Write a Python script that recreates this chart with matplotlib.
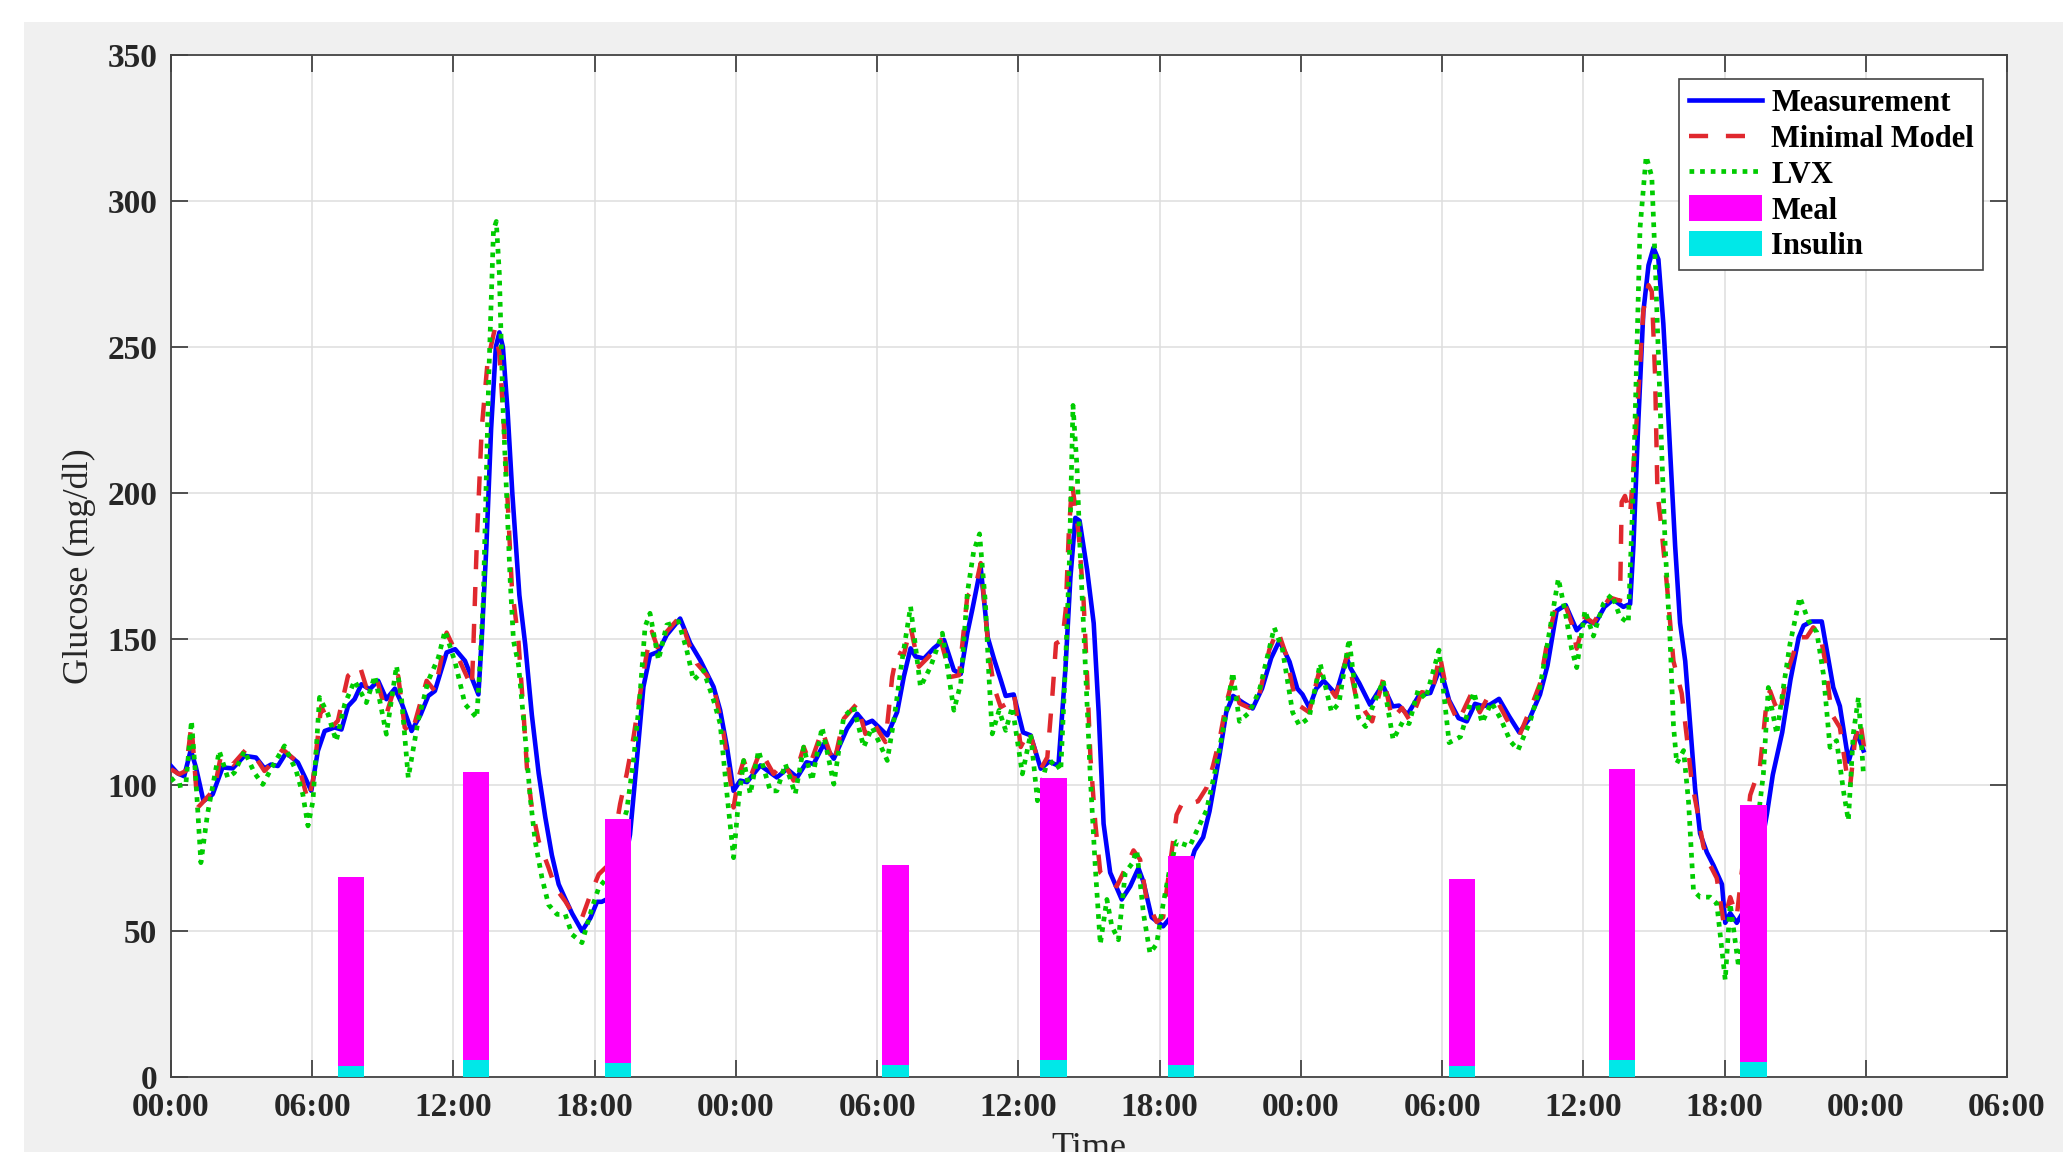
import matplotlib
matplotlib.use("Agg")
import matplotlib.pyplot as plt
from matplotlib.patches import Rectangle

# ---------------- data (hours from start, mg/dl) ----------------
meas_t = [0.0, 0.28, 0.56, 0.84, 1.06, 1.38, 1.77, 2.19, 2.62, 3.12, 3.61, 3.97, 4.25, 4.54, 4.89,
          5.39, 5.67, 5.96, 6.24, 6.53, 6.95, 7.24, 7.52, 7.8, 8.09, 8.44, 8.8, 9.15, 9.51, 9.8,
          10.22, 10.6, 10.93, 11.21, 11.71, 12.07, 12.49, 13.06, 13.2, 13.4, 13.6, 13.8, 13.95,
          14.1, 14.3, 14.5, 14.8, 15.05, 15.33, 15.62, 15.9, 16.18, 16.47, 16.75, 17.04, 17.46,
          17.82, 18.1, 18.3, 18.8, 19.2, 19.5, 19.79, 20.07, 20.35, 20.7, 21.06, 21.63, 22.06,
          22.48, 23.05, 23.33, 23.62, 23.9, 24.18, 24.47, 25.04, 25.74, 26.17, 26.6, 27.0, 27.3,
          27.73, 28.16, 28.72, 29.15, 29.5, 29.79, 30.43, 30.85, 31.13, 31.42, 31.63, 31.99,
          32.4, 32.84, 33.26, 33.55, 33.83, 34.04, 34.4, 34.7, 34.97, 35.25, 35.46, 35.8, 36.2,
          36.52, 36.95, 37.3, 37.7, 38.0, 38.21, 38.42, 38.6, 38.92, 39.2, 39.41, 39.62, 39.9,
          40.39, 40.75, 41.1, 41.31, 41.66, 42.15, 42.5, 43.0, 43.49, 43.85, 44.12, 44.55, 44.83,
          45.12, 45.54, 45.95, 46.35, 46.74, 47.09, 47.52, 47.85, 48.07, 48.36, 48.65, 48.97,
          49.49, 49.95, 50.11, 50.48, 50.94, 51.47, 51.9, 52.17, 52.53, 53.03, 53.5, 53.92, 54.3,
          54.7, 55.05, 55.4, 55.74, 56.03, 56.42, 56.85, 57.28, 57.73, 58.16, 58.48, 58.87, 59.25,
          59.72, 60.14, 60.5, 60.9, 61.27, 61.7, 61.99, 62.13, 62.34, 62.55, 62.77, 62.98, 63.19,
          63.4, 63.55, 63.69, 63.9, 64.11, 64.33, 64.54, 64.75, 64.96, 65.25, 65.53, 65.89, 66.03,
          66.24, 66.52, 66.9, 67.3, 67.8, 68.05, 68.45, 68.8, 69.15, 69.36, 69.7, 70.13, 70.42,
          70.62, 70.9, 71.27, 71.62, 71.9]
meas_v = [106.5, 104, 103, 112, 106, 94.5, 96.8, 106, 105.7, 110, 109.4, 105.7, 107, 106.5, 111,
          107.7, 103, 98, 111.7, 118.5, 119.7, 119, 127, 129.4, 134.5, 132.8, 135.7, 129.4, 133, 128,
          118.5, 124, 130.5, 132.2, 145.4, 146.5, 142.5, 131, 150, 182, 222, 250, 255,
          250, 228, 200, 165, 148, 124, 104, 89, 76, 66, 61, 56, 50,
          54.5, 60, 60, 62, 70, 83, 108.4, 133.6, 144.5, 145.6, 151.4, 157, 148.5,
          142.8, 133.6, 125.6, 113, 98, 101.5, 101, 106.7, 102.6, 105.5, 102.6, 107.8, 107.2,
          114, 109, 119.3, 124.4, 121, 122, 117, 125, 137, 146.8, 144, 143.3,
          146.8, 149.7, 139.3, 138, 152, 160, 174.5, 150.5, 143, 136, 130.5, 131, 118,
          117, 105.6, 108, 106.6, 140, 171, 191.5, 190.5, 173.7, 155.4, 125, 86.7, 70,
          60.8, 65.3, 71.5, 66.9, 54.7, 51.6, 55, 65, 77.6, 82.1, 91, 110.5, 124.9,
          130.5, 128.2, 126.2, 133, 143.5, 149.4, 142.2, 133, 131, 126.5, 133, 135.7,
          131.1, 143.5, 140, 134.9, 127.5, 134.3, 126.9, 127.2, 124.1, 130.8, 131.5, 140.2, 129,
          122.9, 121.8, 127.8, 127, 127.5, 129.5, 123.5, 118, 123, 131, 141, 159.7, 161.6,
          153, 156.4, 155.2, 161, 163.5, 161, 162, 182, 225, 262, 278, 284, 280,
          258, 236, 214, 182, 155.5, 142.4, 120.5, 98.7, 83.4, 76.9, 72.5, 66, 52.8,
          56.1, 52.8, 58, 68, 90, 103.5, 118, 136, 150.5, 154.6, 156, 156, 142.5,
          133.4, 127, 108, 117.8, 111.8]

mm_t = [0.0, 0.35, 0.63, 0.87, 1.13, 1.34, 1.84, 2.12, 2.62, 3.19, 3.6, 3.97, 4.32, 4.75, 5.39,
        5.82, 6.03, 6.38, 6.81, 7.09, 7.52, 8.02, 8.3, 8.73, 9.15, 9.65, 9.93, 10.22, 10.86,
        11.21, 11.71, 12.07, 12.78, 12.84, 13.0, 13.2, 13.45, 13.75, 13.95, 14.15, 14.48, 14.76,
        14.98, 15.12, 15.33, 15.62, 16.04, 16.33, 16.75, 17.18, 17.46, 17.82, 18.17, 18.5, 18.8,
        19.08, 19.36, 19.65, 19.93, 20.21, 20.43, 20.71, 21.06, 21.63, 21.99, 22.34, 22.77,
        23.12, 23.48, 23.76, 23.9, 24.11, 24.33, 24.61, 25.04, 25.6, 26.03, 26.45, 26.88, 27.16,
        27.66, 28.16, 28.58, 29.15, 29.5, 29.79, 30.35, 30.64, 30.85, 31.13, 31.42, 31.77, 32.2,
        32.7, 33.12, 33.48, 33.83, 34.18, 34.4, 34.75, 34.96, 35.25, 35.53, 35.82, 36.1, 36.45,
        36.95, 37.23, 37.45, 37.6, 37.87, 38.01, 38.14, 38.28, 38.56, 38.77, 38.92, 39.06, 39.27,
        39.48, 39.9, 40.18, 40.46, 40.89, 41.17, 41.45, 41.87, 42.15, 42.4, 42.72, 43.0, 43.28,
        43.63, 43.99, 44.27, 44.55, 44.83, 45.11, 45.39, 45.82, 46.24, 46.66, 47.01, 47.37,
        47.79, 48.35, 48.77, 49.48, 49.97, 50.32, 50.75, 51.03, 51.52, 51.87, 52.3, 52.65, 53.14,
        53.56, 53.9, 54.27, 54.68, 55.25, 55.6, 55.96, 56.38, 56.88, 57.3, 57.8, 58.16, 58.51,
        58.87, 59.22, 59.5, 59.72, 60.07, 60.43, 60.85, 61.13, 61.56, 61.63, 61.77, 61.99, 62.27,
        62.55, 62.77, 62.91, 63.05, 63.15, 63.26, 63.55, 63.83, 64.18, 64.4, 64.61, 64.82, 65.1,
        65.39, 65.67, 65.96, 66.24, 66.52, 66.8, 67.09, 67.5, 67.65, 67.79, 67.93, 68.14, 68.36,
        68.64, 68.92, 69.14, 69.49, 69.77, 70.06, 70.27, 70.55, 70.9, 71.19, 71.33, 71.54, 71.76,
        71.97]
mm_v = [105.4, 103.7, 104.8, 120.8, 92.2, 94, 98.5, 110, 107, 112.2, 109.4, 104.8, 107.7, 112.2, 107.7,
        94.5, 101.4, 127, 119.7, 122, 137.4, 140.8, 133.4, 136.8, 124.2, 137.4, 119.7, 117.4, 135.7,
        132.2, 152.2, 146, 133.4, 146, 185, 222, 245, 256, 248, 222, 168, 149.4,
        124.2, 106, 92.2, 80.8, 71.7, 64.8, 60.2, 54.5, 54.5, 62.5, 69.4, 72, 80,
        93.5, 103.8, 116.4, 131.3, 145, 152.5, 146.2, 152.5, 157.7, 148.5, 141.6, 137.6,
        131.3, 117.5, 101.5, 92.3, 102.6, 108.4, 102.6, 111.8, 103.8, 107.8, 101.5, 113, 107.2,
        118.7, 107.2, 122.7, 127.9, 117.5, 122, 114.7, 137, 145.6, 144.5, 154.2, 140.5, 144,
        149.7, 137, 137.6, 164.6, 168, 176, 145, 133.6, 126.7, 127.9, 131.3, 113, 118.7,
        105.5, 109.5, 131.3, 148.5, 149.7, 160, 186, 203.5, 186, 163, 137, 109.6, 86.7,
        70, 66.9, 65.3, 70, 77.6, 74.5, 60.8, 53.1, 54.7, 70, 89.8, 94.4, 93.6,
        94.4, 99, 106.6, 115.7, 128, 136.3, 128, 126.4, 131, 146.3, 153.1, 144.7,
        128, 124.9, 138.6, 130.2, 144.7, 131, 124.9, 121.8, 137, 122.6, 126.4, 121.8, 131.8,
        131, 144.6, 129, 121.6, 131.4, 124.9, 130.3, 128.2, 120.5, 117.2, 127.1, 134.7, 151,
        162, 162, 155.5, 146.7, 157.6, 155.5, 160.9, 164.2, 163.1, 196.9, 199, 192.6, 225.3,
        262.4, 271.2, 269, 240, 200, 192.6, 168.6, 142.4, 131.4, 116.2, 100.9, 92.1, 79,
        72.5, 68.1, 52.8, 61.6, 55, 75, 96.5, 106, 117.5, 128.9, 132.3, 127.7, 124.3,
        138, 144.9, 150.6, 150.6, 154, 151.7, 142.6, 124.3, 119.7, 103.8, 99.2, 115.2, 122,
        110.6]

lvx_t = [0.0, 0.28, 0.63, 0.87, 1.06, 1.27, 1.55, 2.05, 2.41, 2.69, 3.12, 3.54, 3.9, 4.32, 4.82,
         5.32, 5.6, 5.82, 6.03, 6.31, 6.67, 7.02, 7.38, 7.8, 8.3, 8.66, 9.15, 9.58, 9.79, 10.08,
         10.5, 10.93, 11.36, 11.64, 12.07, 12.49, 12.99, 13.13, 13.27, 13.5, 13.7, 13.82, 13.95,
         14.1, 14.41, 14.55, 14.76, 15.05, 15.26, 15.47, 15.76, 16.04, 16.4, 16.75, 17.04, 17.46,
         17.89, 18.17, 18.5, 18.9, 19.36, 19.65, 19.93, 20.14, 20.35, 20.71, 21.06, 21.56, 21.91,
         22.2, 22.62, 23.05, 23.33, 23.62, 23.9, 24.11, 24.33, 24.61, 24.96, 25.46, 25.74, 26.1,
         26.52, 26.88, 27.23, 27.66, 28.16, 28.58, 29.0, 29.43, 29.79, 30.43, 30.71, 31.06, 31.42,
         31.84, 32.27, 32.77, 33.26, 33.55, 33.83, 34.1, 34.35, 34.6, 34.75, 34.89, 35.18, 35.46,
         35.74, 36.17, 36.52, 36.81, 37.16, 37.52, 37.8, 38.01, 38.16, 38.32, 38.49, 38.63, 38.85,
         39.06, 39.27, 39.48, 39.76, 39.97, 40.25, 40.54, 40.82, 41.03, 41.31, 41.59, 41.87, 42.15,
         42.4, 42.72, 43.28, 43.63, 43.99, 44.41, 44.83, 45.11, 45.39, 45.82, 46.24, 46.87, 47.22,
         47.65, 47.93, 48.35, 48.82, 49.3, 49.62, 50.05, 50.45, 50.75, 51.03, 51.5, 51.92, 52.35,
         52.6, 52.98, 53.3, 53.87, 54.3, 54.78, 55.35, 55.7, 56.1, 56.5, 56.9, 57.23, 57.75,
         58.16, 58.58, 58.94, 59.22, 59.5, 59.72, 60.07, 60.43, 60.85, 61.21, 61.56, 61.91, 62.13,
         62.27, 62.41, 62.67, 62.91, 63.05, 63.19, 63.33, 63.48, 63.69, 63.83, 63.97, 64.26, 64.47,
         64.68, 64.96, 65.39, 65.67, 66.03, 66.24, 66.6, 66.9, 67.3, 67.65, 67.86, 68.0, 68.22,
         68.5, 68.78, 69.2, 69.56, 69.92, 70.2, 70.48, 70.76, 71.05, 71.26, 71.47, 71.69, 71.9]
lvx_v = [102.5, 99.7, 100.2, 122, 101.4, 73.4, 90, 111.7, 102.5, 104.2, 111.7, 104.2, 100.2, 106.5, 113.4,
         104.8, 96.8, 86, 94.5, 130, 124.2, 115, 127.7, 135.7, 128.2, 137.4, 117.4, 140.8, 130, 102.5,
         122, 135.7, 143.7, 152.8, 142, 127.7, 123, 141.4, 164, 240, 290, 293, 275,
         230, 170, 149.4, 141.4, 116.2, 95.7, 80.8, 68.2, 59, 55.7, 55.7, 48.8, 46,
         58, 64.8, 68, 80, 91.2, 108.4, 131.3, 154.2, 158.8, 142.8, 154.8, 156, 146.2,
         135.9, 139.3, 129, 121, 96.9, 75.1, 94.6, 108.4, 96.9, 111.8, 98, 98, 107.2,
         96.9, 113, 101.5, 119.8, 100.3, 123.3, 126.7, 113, 119.8, 108.4, 122.1, 142.8, 161.1,
         133.6, 140.5, 152, 125.6, 134.7, 165.7, 180, 186, 162.3, 137, 117.5, 125.6, 118.7,
         126.7, 103.8, 117.5, 94.6, 106, 108.4, 104.9, 142.8, 175, 230, 208.9, 178.3, 140,
         102, 71.5, 45.5, 60.8, 51.6, 47, 70, 73, 77.6, 56.2, 42.4, 45.5, 59.2,
         70, 80.6, 79, 85.2, 91.3, 106.6, 124.9, 138.6, 121.8, 124.9, 132.5, 153.9, 146.3,
         124.9, 120.5, 123, 141.6, 125, 128, 150, 123, 120, 126.4, 135.7, 115.5, 122,
         121, 132.5, 129.5, 146.2, 114.5, 116.5, 131.8, 121.3, 128.3, 122.5, 115, 112, 122,
         133.6, 153.3, 170.7, 159.8, 146.7, 140.2, 159.8, 151, 162, 165.3, 157.6, 155.5, 203.5,
         247.2, 290.8, 315.3, 308.3, 279.9, 247.2, 214.4, 181.7, 148.9, 120.5, 107.4, 111.8, 94.3,
         63.8, 61.6, 61.6, 59.4, 33.2, 59.4, 37.6, 55, 80, 103.8, 133.4, 126.6, 117.5,
         133.4, 148.3, 164.3, 156.3, 152.3, 138, 112.9, 115.2, 98.1, 87.8, 117.5, 130, 103.8]

meal_t = [7.63, 12.97, 18.98, 30.78, 37.49, 42.89, 54.84, 61.65, 67.23]
meal_total = [68.5, 104.3, 88.5, 72.7, 102.4, 75.8, 67.8, 105.4, 93.0]
insulin_v = [3.7, 5.7, 4.9, 4.2, 5.9, 4.2, 3.7, 5.9, 5.2]
meal_v = [a - b for a, b in zip(meal_total, insulin_v)]

xtick_pos = list(range(0, 79, 6))
xtick_lab = ["00:00", "06:00", "12:00", "18:00"] * 3 + ["00:00", "06:00"]
ytick_pos = list(range(0, 351, 50))

# ---------------- figure ----------------
W, H = 2063, 1152
fig = plt.figure(figsize=(W / 100, H / 100), dpi=100)
fig.patch.set_facecolor("white")
fig.add_artist(Rectangle((24 / W, 0), 1, 1130 / H, transform=fig.transFigure,
                         facecolor="#f0f0f0", edgecolor="none", zorder=0))

ax = fig.add_axes([171 / W, 1 - 1077 / H, (2007 - 171) / W, (1077 - 55) / H])
ax.set_facecolor("white")

serif = ["Liberation Serif", "DejaVu Serif"]

l1, = ax.plot(meas_t, meas_v, color="#0000FF", lw=3.3, zorder=3, label="Measurement",
              solid_joinstyle="round")
l2, = ax.plot(mm_t, mm_v, color="#E0282E", lw=3.2, zorder=4, dashes=(4.3, 4.0),
              label="Minimal Model")
l3, = ax.plot(lvx_t, lvx_v, color="#00CC00", lw=3.4, zorder=5, dashes=(1.0, 1.25),
              label="LVX")
b_ins = ax.bar(meal_t, insulin_v, width=1.11, color="#00E8E8", zorder=6, label="Insulin")
b_meal = ax.bar(meal_t, meal_v, width=1.11, bottom=insulin_v, color="#FF00FF", zorder=6,
                label="Meal")

ax.set_xlim(0, 78)
ax.set_ylim(0, 350)
ax.set_xticks(xtick_pos)
ax.set_xticklabels(xtick_lab)
ax.set_yticks(ytick_pos)
ax.grid(True, color="#dedede", lw=1.1)
ax.set_axisbelow(True)

for s in ax.spines.values():
    s.set_color("#444444")
    s.set_linewidth(1.3)

ax.tick_params(direction="in", length=12, width=1.3, color="#444444",
               top=True, right=True, labelsize=24, labelcolor="#262626")
ax.tick_params(axis="x", pad=11)
ax.tick_params(axis="y", pad=10)
for lab in ax.get_xticklabels() + ax.get_yticklabels():
    lab.set_fontfamily(serif)
    lab.set_fontweight("bold")

ax.set_ylabel("Glucose (mg/dl)", fontsize=26, family=serif, color="#262626")
ax.yaxis.set_label_coords(-0.0409, 0.5)
ax.set_xlabel("Time", fontsize=26, family=serif, color="#262626", va="top")
ax.xaxis.set_label_coords(0.5, -0.0538)

leg = ax.legend([l1, l2, l3, b_meal, b_ins],
                ["Measurement", "Minimal Model", "LVX", "Meal", "Insulin"],
                loc="upper right", bbox_to_anchor=(0.9869, 0.9765), borderaxespad=0,
                prop={"family": serif, "weight": "bold", "size": 22},
                handlelength=2.4, handleheight=0.9, handletextpad=0.3,
                labelspacing=0.18, borderpad=0.3, fancybox=False, framealpha=1)
leg.get_frame().set_edgecolor("#444444")
leg.get_frame().set_linewidth(1.2)

fig.savefig("out.png", dpi=100, facecolor=fig.get_facecolor())
